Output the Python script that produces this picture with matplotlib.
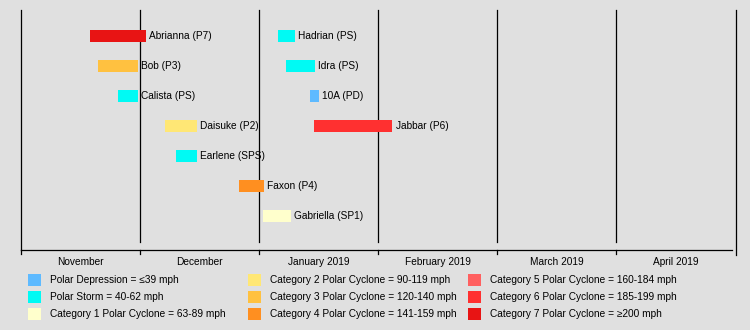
import matplotlib.pyplot as plt
from matplotlib.patches import Rectangle

plt.rcParams['font.family'] = ['Liberation Sans', 'DejaVu Sans']

# storms, in display order (row 0 at top), days counted from 1 November
# on a grid of 30-day months
storms = ['Abrianna (P7)', 'Bob (P3)', 'Calista (PS)', 'Daisuke (P2)',
          'Earlene (SPS)', 'Faxon (P4)', 'Gabriella (SP1)',
          'Hadrian (PS)', 'Idra (PS)', '10A (PD)', 'Jabbar (P6)']
rows = [0, 1, 2, 3, 4, 5, 6, 0, 1, 2, 3]
starts = [17.5, 19.5, 24.5, 36.3, 39.1, 54.9, 61.0, 64.7, 66.8, 72.8, 73.8]
ends = [31.5, 29.5, 29.5, 44.4, 44.4, 61.2, 68.0, 69.0, 74.1, 75.1, 93.6]
cats = ['P7', 'P3', 'PS', 'P2', 'PS', 'P4', 'P1', 'PS', 'PS', 'PD', 'P6']

months = ['November', 'December', 'January 2019', 'February 2019',
          'March 2019', 'April 2019']

cat_keys = ['PD', 'PS', 'P1', 'P2', 'P3', 'P4', 'P5', 'P6', 'P7']
cat_colors = ['#5ebaff', '#00faf4', '#ffffcc', '#ffe775', '#ffc140',
              '#ff8f20', '#ff6060', '#ff3030', '#e81414']
cat_labels = ['Polar Depression = \u226439 mph',
              'Polar Storm = 40-62 mph',
              'Category 1 Polar Cyclone = 63-89 mph',
              'Category 2 Polar Cyclone = 90-119 mph',
              'Category 3 Polar Cyclone = 120-140 mph',
              'Category 4 Polar Cyclone = 141-159 mph',
              'Category 5 Polar Cyclone = 160-184 mph',
              'Category 6 Polar Cyclone = 185-199 mph',
              'Category 7 Polar Cyclone = \u2265200 mph']
colour = dict(zip(cat_keys, cat_colors))

W, H = 750, 330
bg = '#e0e0e0'
fig = plt.figure(figsize=(W / 100, H / 100), dpi=100, facecolor=bg)

# timeline panel, pixel extents converted to figure fractions
x0, x1 = 20.5, 735.5
y_top, y_axis = 10, 250
ax = fig.add_axes([x0 / W, 1 - y_axis / H, (x1 - x0) / W, (y_axis - y_top) / H])
ax.set_facecolor(bg)
ax.set_xlim(0, 180)
ax.set_ylim(8, 0)  # rows every 30 px, 240 px tall
for s in ax.spines.values():
    s.set_visible(False)
ax.set_xticks([])
ax.set_yticks([])

fs = 7.3
lw = 0.9

# month gridlines
for i in range(7):
    x = i * 30
    if i == 0:
        ax.plot([x, x], [0, 8], color='black', lw=lw, clip_on=False)
    elif i == 6:
        ax.plot([x, x], [0, 8.17], color='black', lw=lw, clip_on=False)
    else:
        ax.plot([x, x], [0, 7.73], color='black', lw=lw, clip_on=False)
        ax.plot([x, x], [8, 8.12], color='black', lw=lw, clip_on=False)
# time axis
ax.plot([0, 179], [8, 8], color='black', lw=lw, clip_on=False)
ax.plot([0, 0], [8, 8.12], color='black', lw=lw, clip_on=False)

for i, m in enumerate(months):
    ax.text(i * 30 + 15, 8.4, m, ha='center', va='center', fontsize=fs,
            clip_on=False)

# storm bars with names to the right
for name, r, a, b, c in zip(storms, rows, starts, ends, cats):
    yc = 0.86 + r
    ax.add_patch(Rectangle((a, yc - 0.2), b - a, 0.4, facecolor=colour[c],
                           edgecolor='none', zorder=3))
    ax.annotate(name, (b, yc), xytext=(2.5, 0), textcoords='offset points',
                ha='left', va='center', fontsize=fs, zorder=4)

# legend in three columns
sw_x = [28, 248, 468]
tx_x = [50, 270, 490]
row_y = [280, 297, 314]
for k, (col, lab) in enumerate(zip(cat_colors, cat_labels)):
    c, r = divmod(k, 3)
    fig.patches.append(Rectangle((sw_x[c] / W, 1 - (row_y[r] + 6) / H),
                                 13 / W, 12 / H, facecolor=col,
                                 edgecolor='none', transform=fig.transFigure))
    fig.text(tx_x[c] / W, 1 - row_y[r] / H, lab, ha='left', va='center',
             fontsize=fs)

fig.savefig('out.png', dpi=100, facecolor=bg)
